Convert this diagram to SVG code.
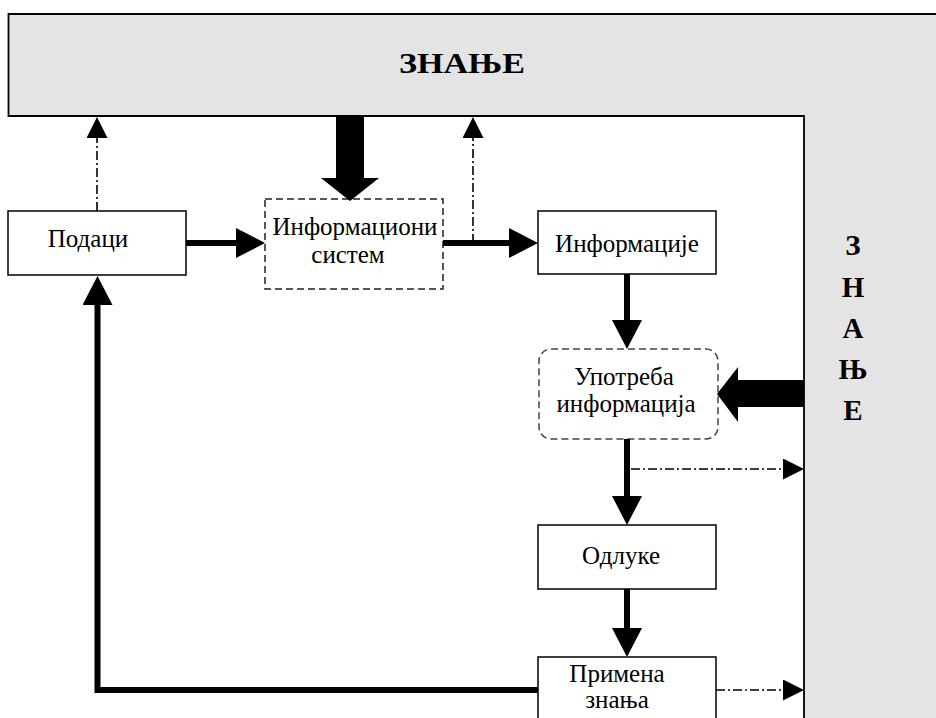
<svg xmlns="http://www.w3.org/2000/svg" width="936" height="718" viewBox="0 0 936 718">
<style>
.box{fill:#fff;stroke:#000;stroke-width:1.5}
.dbox{fill:#fff;stroke:#222;stroke-width:1.5;stroke-dasharray:7 4}
.t{font-family:"Liberation Serif","Times New Roman",serif;font-size:25px;fill:#000;text-anchor:middle}
.tb{font-family:"Liberation Serif","Times New Roman",serif;font-size:29px;font-weight:bold;fill:#000;text-anchor:middle}
.flow{fill:none;stroke:#000;stroke-width:6}
.dd{fill:none;stroke:#000;stroke-width:1.6;stroke-dasharray:9 3 2 3}
</style>
<defs>
<marker id="ah" markerUnits="userSpaceOnUse" markerWidth="29" markerHeight="30" refX="1" refY="15" orient="auto" viewBox="0 0 29 30">
<path d="M0,0 L29,15 L0,30 z" fill="#000"/>
</marker>
<marker id="ahs" markerUnits="userSpaceOnUse" markerWidth="21" markerHeight="21" refX="1" refY="10.5" orient="auto" viewBox="0 0 21 21">
<path d="M0,0 L21,10.5 L0,21 z" fill="#000"/>
</marker>
</defs>

<g id="znanje">
<path d="M8,13 H936 V718 H804 V116 H8 Z" fill="#e4e4e4"/>
<path d="M936,14 H8.5 V116 H804 V718" fill="none" stroke="#000" stroke-width="1.8"/>
<text class="tb" x="462" y="73" textLength="126" lengthAdjust="spacingAndGlyphs">ЗНАЊЕ</text>
<text class="tb" x="853" y="255">З</text>
<text class="tb" x="853" y="297">Н</text>
<text class="tb" x="853" y="338">А</text>
<text class="tb" x="853" y="379">Њ</text>
<text class="tb" x="853" y="420">Е</text>
</g>

<g id="podaci">
<rect class="box" x="8" y="211" width="178" height="64"/>
<text class="t" x="88" y="247">Подаци</text>
</g>

<g id="infsistem">
<rect class="dbox" x="265" y="199" width="178" height="90"/>
<text class="t" x="355" y="235">Информациони</text>
<text class="t" x="348" y="263">систем</text>
</g>

<g id="informacije">
<rect class="box" x="538" y="211" width="178" height="63"/>
<text class="t" x="627" y="252">Информације</text>
</g>

<g id="upotreba">
<rect class="dbox" x="539" y="349" width="179" height="90" rx="12" ry="12" style="stroke:#444"/>
<text class="t" x="624" y="385">Употреба</text>
<text class="t" x="626" y="412">информација</text>
</g>

<g id="odluke">
<rect class="box" x="538" y="525" width="178" height="64"/>
<text class="t" x="621" y="564">Одлуке</text>
</g>

<g id="primena">
<rect class="box" x="538" y="657" width="178" height="70"/>
<text class="t" x="617" y="682">Примена</text>
<text class="t" x="617" y="708">знања</text>
</g>

<g id="connectors">
<line class="flow" x1="186" y1="243" x2="237" y2="243" marker-end="url(#ah)"/>
<line class="flow" x1="443" y1="243" x2="510" y2="243" marker-end="url(#ah)"/>
<line class="flow" x1="627" y1="274" x2="627" y2="321" stroke-width="7" marker-end="url(#ah)"/>
<line class="flow" x1="627" y1="439" x2="627" y2="497" stroke-width="7" marker-end="url(#ah)"/>
<line class="flow" x1="627" y1="589" x2="627" y2="629" stroke-width="7" marker-end="url(#ah)"/>
<polyline class="flow" points="538,690 97.5,690 97.5,304" stroke-width="7" stroke-linejoin="miter" marker-end="url(#ah)"/>
<polygon points="336,116 364,116 364,178 379,178 350,201 321,178 336,178" fill="#000"/>
<polygon points="804,380 738,380 738,367 717,394 738,422 738,407 804,407" fill="#000"/>
<line class="dd" x1="97" y1="211" x2="97" y2="137" marker-end="url(#ahs)"/>
<line class="dd" x1="473" y1="243" x2="473" y2="137" marker-end="url(#ahs)"/>
<line class="dd" x1="631" y1="469" x2="784" y2="469" marker-end="url(#ahs)"/>
<line class="dd" x1="716" y1="690" x2="784" y2="690" marker-end="url(#ahs)"/>
</g>
</svg>
